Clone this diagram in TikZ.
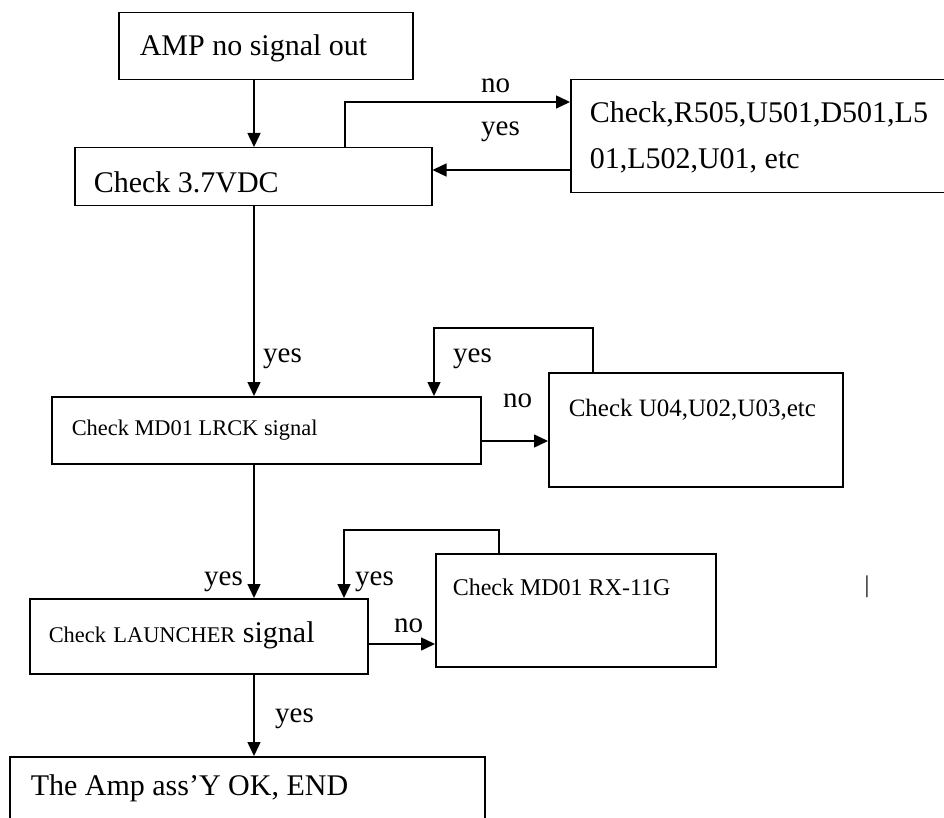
\documentclass[tikz,border=0pt]{standalone}
\usepackage{fontspec}
\setmainfont{Liberation Serif}
\usetikzlibrary{positioning,arrows.meta}
\tikzset{
mybox/.style={
  draw,
  line width=1.5pt,
  anchor=north west,
  inner ysep=0pt,
  font=\fontsize{30}{46}\selectfont,
  execute at begin node={\spaceskip=0.25em plus 0.1em minus 0.05em\relax}
  },
mylab/.style={
  anchor=base west,
  inner sep=0pt,
  font=\fontsize{29}{34}\selectfont
  },
myarr/.style={
  ->,
  line width=1.5pt
  }
}

\begin{document}
\begin{tikzpicture}[x=1pt,y=-1pt,>={Triangle[length=14pt,width=13pt]}]
            \useasboundingbox (0,0) rectangle (944,818);
            % boxes
            \node[mybox,inner xsep=21pt,text width=252pt,text height=43pt,text depth=24pt]
            (amp) at (118,12) {AMP no signal out};
            \node[mybox,inner xsep=19pt,text width=319pt,text height=45pt,text depth=13pt]
            (chk37) at (74,147) {Check 3.7VDC};
            \node[mybox,inner xsep=19pt,text width=400pt,text height=43pt,text depth=70pt]
            (fix1) at (570,79) {Check,R505,U501,D501,L5\\01,L502,U01, etc};
            \node[mybox,inner xsep=20pt,text width=389pt,text height=39pt,text depth=28pt,
                font=\fontsize{22.4}{26}\selectfont]
            (lrck) at (51,396) {Check MD01 LRCK signal};
            \node[mybox,inner xsep=20pt,text width=254pt,text height=44pt,text depth=70pt,
                font=\fontsize{25}{30}\selectfont]
            (u04) at (548,372) {Check U04,U02,U03,etc};
            \node[mybox,inner xsep=19pt,text width=300pt,text height=44pt,text depth=31pt]
            (launch) at (29,598) {{\fontsize{22.4}{26}\selectfont Check LAUNCHER }signal};
            \node[mybox,inner xsep=17pt,text width=246pt,text height=42pt,text depth=71pt,
                font=\fontsize{24}{28}\selectfont]
            (rx) at (435,553) {Check MD01 RX-11G};
            \node[mybox,inner xsep=21pt,text width=433pt,text height=39pt,text depth=35pt]
            (fin) at (9,756) {The Amp ass’Y OK, END};
            \node[font=\fontsize{24}{24}\selectfont,inner sep=0pt] (bar) at (867,587) {|};
            % bend points
            \coordinate (c1) at (254,0);
            \coordinate (t1) at (345,102);
            \coordinate (t2) at (0,170);
            \coordinate (t3) at (434,328);
            \coordinate (t3b) at (593,0);
            \coordinate (t4) at (0,441);
            \coordinate (t5) at (344,530);
            \coordinate (t5b) at (499,0);
            \coordinate (t6) at (0,644);
            % connectors
            \draw[myarr] (amp.south -| c1) -- (chk37.north -| c1);
            \draw[myarr] (chk37.north -| t1) |- (fix1.west |- t1);
            \draw[myarr] (fix1.west |- t2) -- (chk37.east |- t2);
            \draw[myarr] (chk37.south -| c1) -- (lrck.north -| c1);
            \draw[myarr] (u04.north -| t3b) |- (t3) -- (lrck.north -| t3);
            \draw[myarr] (lrck.east |- t4) -- (u04.west |- t4);
            \draw[myarr] (lrck.south -| c1) -- (launch.north -| c1);
            \draw[myarr] (rx.north -| t5b) |- (t5) -- (launch.north -| t5);
            \draw[myarr] (launch.east |- t6) -- (rx.west |- t6);
            \draw[myarr] (launch.south -| c1) -- (fin.north -| c1);
            % labels
            \node[mylab] (no1) at (481,93) {no};
            \node[mylab] (yes1) at (481,136) {yes};
            \node[mylab] (yes2) at (263,362) {yes};
            \node[mylab] (yes3) at (453,362) {yes};
            \node[mylab] (no2) at (503,407) {no};
            \node[mylab] (yes4) at (204,585) {yes};
            \node[mylab] (yes5) at (355,585) {yes};
            \node[mylab] (no3) at (394,632) {no};
            \node[mylab] (yes6) at (275,722) {yes};
        \end{tikzpicture}
\end{document}
